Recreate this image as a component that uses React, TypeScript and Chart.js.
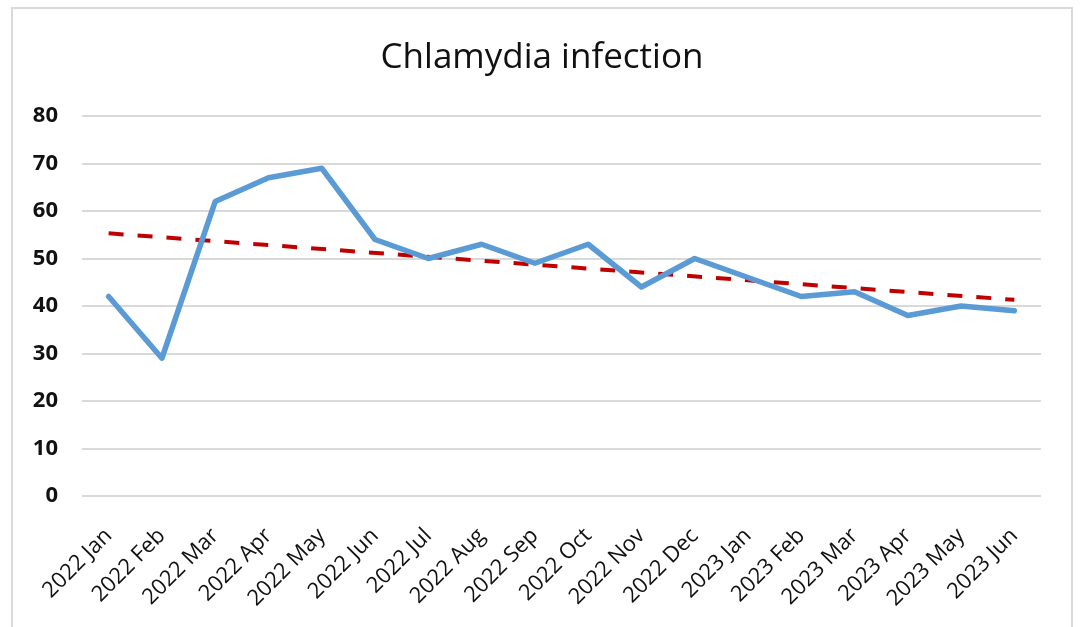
import React, { useEffect, useRef } from "react";
import { Chart, registerables } from "chart.js";

Chart.register(...registerables);

const chartTitle = "Chlamydia infection";
const categories = [
  "2022 Jan", "2022 Feb", "2022 Mar", "2022 Apr", "2022 May", "2022 Jun",
  "2022 Jul", "2022 Aug", "2022 Sep", "2022 Oct", "2022 Nov", "2022 Dec",
  "2023 Jan", "2023 Feb", "2023 Mar", "2023 Apr", "2023 May", "2023 Jun",
];
const infections = [42, 29, 62, 67, 69, 54, 50, 53, 49, 53, 44, 50, 46, 42, 43, 38, 40, 39];
// linear trendline end values (first and last category)
const trendEnds = [55.3, 41.3];
const yTicks = [0, 10, 20, 30, 40, 50, 60, 70, 80];

const FONT = "'Open Sans', sans-serif";

const framePlugin = {
  id: "frameAndTitle",
  beforeDraw(chart: any) {
    const ctx = chart.ctx;
    ctx.save();
    ctx.fillStyle = "#ffffff";
    ctx.fillRect(0, 0, chart.width, chart.height);
    ctx.strokeStyle = "#d9d9d9";
    ctx.lineWidth = 2;
    ctx.strokeRect(12, 8, 1060, 640);
    ctx.fillStyle = "#111111";
    ctx.font = `normal 35px ${FONT}`;
    ctx.textAlign = "center";
    ctx.textBaseline = "alphabetic";
    ctx.fillText(chartTitle, 542, 68);
    ctx.restore();
  },
};

export default function App() {
  const ref = useRef<HTMLCanvasElement | null>(null);
  useEffect(() => {
    if (!ref.current) return;
    const chart = new Chart(ref.current, {
      type: "line",
      data: {
        labels: categories,
        datasets: [
          {
            label: chartTitle,
            data: infections,
            borderColor: "#5B9BD5",
            backgroundColor: "#5B9BD5",
            borderWidth: 5.5,
            pointRadius: 0,
            tension: 0,
            borderJoinStyle: "round",
            borderCapStyle: "round",
          },
          {
            label: "Trend",
            data: [
              { x: categories[0], y: trendEnds[0] },
              { x: categories[categories.length - 1], y: trendEnds[1] },
            ] as any,
            borderColor: "#C00000",
            borderWidth: 4,
            borderDash: [15, 14],
            pointRadius: 0,
            tension: 0,
          },
        ],
      },
      options: {
        responsive: false,
        animation: false,
        events: [],
        layout: { padding: { left: 0, right: 41, top: 116, bottom: 0 } },
        plugins: {
          legend: { display: false },
          tooltip: { enabled: false },
          title: { display: false },
        },
        scales: {
          x: {
            offset: true,
            grid: { display: false, drawTicks: false },
            border: { display: false },
            ticks: {
              autoSkip: false,
              maxRotation: 45,
              minRotation: 45,
              padding: 27,
              color: "#111111",
              font: { family: FONT, size: 22 },
            },
            afterFit(scale: any) {
              scale.height = 131;
            },
          },
          y: {
            min: 0,
            max: 80,
            afterBuildTicks(scale: any) {
              scale.ticks = yTicks.map((v) => ({ value: v }));
            },
            grid: { color: "#d9d9d9", lineWidth: 2, drawTicks: false },
            border: { display: false },
            ticks: {
              padding: 24,
              color: "#111111",
              font: { family: FONT, size: 22, weight: "bold" },
            },
            afterFit(scale: any) {
              scale.width = 82;
            },
          },
        },
      },
      plugins: [framePlugin],
    });
    return () => chart.destroy();
  }, []);
  return (
    <div style={{ position: "fixed", left: 0, top: 0, width: 1082, height: 627, overflow: "hidden", background: "#fff" }}>
      <canvas ref={ref} width={1082} height={627} style={{ display: "block" }} />
    </div>
  );
}
